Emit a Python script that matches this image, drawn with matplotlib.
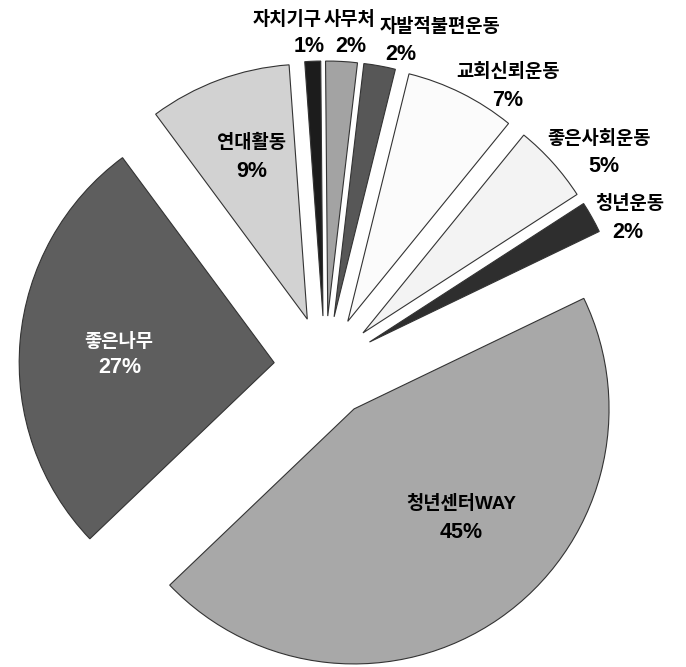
import matplotlib
matplotlib.use("Agg")
from matplotlib import pyplot as plt

plt.rcParams['font.family'] = ['Liberation Sans', 'Noto Sans CJK KR', 'DejaVu Sans']

labels = ["자치기구", "사무처", "자발적불편운동", "교회신뢰운동", "좋은사회운동",
          "청년운동", "청년센터WAY", "좋은나무", "연대활동"]
values = [1, 2, 2, 7, 5, 2, 45, 27, 9]
colors = ["#1c1c1c", "#a3a3a3", "#575757", "#fbfbfb", "#f3f3f3",
          "#2e2e2e", "#a8a8a8", "#5e5e5e", "#d2d2d2"]

# pixel layout of the original picture
W, H = 686, 667
cx, cy, R = 325, 367, 255   # pie centre (px from top-left) and radius

fig = plt.figure(figsize=(W / 100, H / 100), dpi=100)
ax = fig.add_axes([0, 0, 1, 1])
ax.pie(values, colors=colors, startangle=94.1, counterclock=False,
       explode=[0.2] * len(values), radius=1,
       wedgeprops=dict(edgecolor="#333333", linewidth=0.8))
ax.set_aspect("auto")
ax.set_xlim(-cx / R, (W - cx) / R)
ax.set_ylim(-(H - cy) / R, cy / R)
ax.axis("off")

def px(x, y):
    return (x - cx) / R, (cy - y) / R

# (name x, name y, pct x, pct y, align, text colour) in pixels
label_pos = [
    (322, 20, 325, 47, "right", "black"),
    (350, 20, 351, 47, "center", "black"),
    (380, 27, 385, 55, "left", "black"),
    (508, 72, 508, 100, "center", "black"),
    (599, 139, 604, 167, "center", "black"),
    (630, 204, 628, 233, "center", "black"),
    (461, 504, 461, 533, "center", "black"),
    (119, 342, 120, 368, "center", "white"),
    (252, 143, 252, 172, "center", "black"),
]

for name, v, (nx, ny, qx, qy, ha, c) in zip(labels, values, label_pos):
    ax.text(*px(nx, ny), name, ha=ha, va="center", fontsize=13.5,
            fontweight="heavy", color=c)
    ax.text(*px(qx, qy), f"{v}%", ha=ha, va="center", fontsize=15.5,
            fontweight="bold", color=c)

fig.savefig("out.png", dpi=100, facecolor="white")
